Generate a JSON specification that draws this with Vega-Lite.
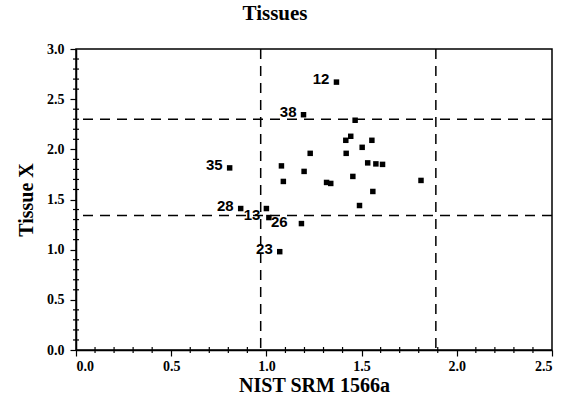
{
  "$schema": "https://vega.github.io/schema/vega-lite/v6.json",
  "autosize": "none",
  "width": 476,
  "height": 301,
  "padding": {"left": 76, "top": 49, "right": 10, "bottom": 45},
  "background": "white",
  "config": {
    "view": {"stroke": "black", "strokeWidth": 1.5},
    "axis": {"grid": false, "domainColor": "black", "tickColor": "black", "labelColor": "black", "titleColor": "black", "domainWidth": 1.5}
  },
  "title": {"text": "Tissues", "font": "Liberation Serif", "fontSize": 21, "fontWeight": "bold", "color": "black", "dx": -39, "offset": 18},
  "datasets": {
    "pts": [
      {"x": 1.368, "y": 2.67, "label": "12"},
      {"x": 1.195, "y": 2.345, "label": "38"},
      {"x": 1.466, "y": 2.29, "label": ""},
      {"x": 1.417, "y": 2.09, "label": ""},
      {"x": 1.443, "y": 2.13, "label": ""},
      {"x": 1.554, "y": 2.09, "label": ""},
      {"x": 1.503, "y": 2.02, "label": ""},
      {"x": 1.23, "y": 1.96, "label": ""},
      {"x": 1.419, "y": 1.96, "label": ""},
      {"x": 0.807, "y": 1.815, "label": "35"},
      {"x": 1.079, "y": 1.835, "label": ""},
      {"x": 1.198, "y": 1.78, "label": ""},
      {"x": 1.532, "y": 1.865, "label": ""},
      {"x": 1.575, "y": 1.855, "label": ""},
      {"x": 1.61, "y": 1.85, "label": ""},
      {"x": 1.089, "y": 1.68, "label": ""},
      {"x": 1.316, "y": 1.67, "label": ""},
      {"x": 1.338, "y": 1.66, "label": ""},
      {"x": 1.454, "y": 1.73, "label": ""},
      {"x": 1.812, "y": 1.69, "label": ""},
      {"x": 1.559, "y": 1.58, "label": ""},
      {"x": 1.489, "y": 1.44, "label": ""},
      {"x": 0.865, "y": 1.41, "label": "28"},
      {"x": 1.0, "y": 1.41, "label": "13"},
      {"x": 1.013, "y": 1.32, "label": "26"},
      {"x": 1.184, "y": 1.26, "label": ""},
      {"x": 1.07, "y": 0.98, "label": "23"}
    ],
    "hlines": [{"y": 2.3}, {"y": 1.34}],
    "vlines": [{"x": 0.97}, {"x": 1.89}],
    "yminor": [{"v": 0.1}, {"v": 0.2}, {"v": 0.3}, {"v": 0.4}, {"v": 0.6}, {"v": 0.7}, {"v": 0.8}, {"v": 0.9}, {"v": 1.1}, {"v": 1.2}, {"v": 1.3}, {"v": 1.4}, {"v": 1.6}, {"v": 1.7}, {"v": 1.8}, {"v": 1.9}, {"v": 2.1}, {"v": 2.2}, {"v": 2.3}, {"v": 2.4}, {"v": 2.6}, {"v": 2.7}, {"v": 2.8}, {"v": 2.9}],
    "xminor": [{"v": 0.1}, {"v": 0.2}, {"v": 0.3}, {"v": 0.4}, {"v": 0.6}, {"v": 0.7}, {"v": 0.8}, {"v": 0.9}, {"v": 1.1}, {"v": 1.2}, {"v": 1.3}, {"v": 1.4}, {"v": 1.6}, {"v": 1.7}, {"v": 1.8}, {"v": 1.9}, {"v": 2.1}, {"v": 2.2}, {"v": 2.3}, {"v": 2.4}]
  },
  "layer": [
    {
      "data": {"name": "pts"},
      "mark": {"type": "square", "size": 30, "color": "black", "opacity": 1, "filled": true},
      "encoding": {
        "x": {"field": "x", "type": "quantitative", "scale": {"domain": [0, 2.5], "nice": false},
          "axis": {"orient": "bottom", "values": [0, 0.5, 1.0, 1.5, 2.0, 2.5], "format": ".1f", "tickSize": 6, "tickWidth": 1.2, "labelFont": "Liberation Serif", "labelFontWeight": "bold", "labelFontSize": 14, "labelPadding": 3, "title": "NIST SRM 1566a", "titleFont": "Liberation Serif", "titleFontWeight": "bold", "titleFontSize": 20, "titlePadding": 2}},
        "y": {"field": "y", "type": "quantitative", "scale": {"domain": [0, 3], "nice": false},
          "axis": {"orient": "left", "values": [0, 0.5, 1.0, 1.5, 2.0, 2.5, 3.0], "format": ".1f", "tickSize": 6, "tickWidth": 1.2, "labelFont": "Liberation Serif", "labelFontWeight": "bold", "labelFontSize": 14, "labelPadding": 6, "title": "Tissue X", "titleFont": "Liberation Serif", "titleFontWeight": "bold", "titleFontSize": 20, "titlePadding": 10}}
      }
    },
    {
      "data": {"name": "yminor"},
      "mark": {"type": "tick", "orient": "horizontal", "size": 6, "thickness": 1.2, "color": "black", "opacity": 1},
      "encoding": {
        "y": {"field": "v", "type": "quantitative"},
        "x": {"datum": 0, "type": "quantitative"}
      }
    },
    {
      "data": {"name": "xminor"},
      "mark": {"type": "tick", "orient": "vertical", "size": 6, "thickness": 1.2, "color": "black", "opacity": 1},
      "encoding": {
        "x": {"field": "v", "type": "quantitative"},
        "y": {"datum": 0, "type": "quantitative"}
      }
    },
    {
      "data": {"name": "hlines"},
      "mark": {"type": "rule", "strokeDash": [10, 7], "strokeWidth": 1.5, "color": "black"},
      "encoding": {
        "y": {"field": "y", "type": "quantitative"}
      }
    },
    {
      "data": {"name": "vlines"},
      "mark": {"type": "rule", "strokeDash": [10, 7], "strokeWidth": 1.5, "color": "black"},
      "encoding": {
        "x": {"field": "x", "type": "quantitative"}
      }
    },
    {
      "data": {"name": "pts"},
      "transform": [{"filter": "datum.label != '' && datum.label != '13' && datum.label != '26'"}],
      "mark": {"type": "text", "align": "right", "baseline": "middle", "dx": -7, "dy": -3, "font": "Liberation Sans", "fontWeight": "bold", "fontSize": 15, "color": "black"},
      "encoding": {
        "x": {"field": "x", "type": "quantitative"},
        "y": {"field": "y", "type": "quantitative"},
        "text": {"field": "label"}
      }
    },
    {
      "data": {"name": "pts"},
      "transform": [{"filter": "datum.label == '13'"}],
      "mark": {"type": "text", "align": "right", "baseline": "middle", "dx": -6, "dy": 6, "font": "Liberation Sans", "fontWeight": "bold", "fontSize": 15, "color": "black"},
      "encoding": {
        "x": {"field": "x", "type": "quantitative"},
        "y": {"field": "y", "type": "quantitative"},
        "text": {"field": "label"}
      }
    },
    {
      "data": {"name": "pts"},
      "transform": [{"filter": "datum.label == '26'"}],
      "mark": {"type": "text", "align": "left", "baseline": "middle", "dx": 2, "dy": 4, "font": "Liberation Sans", "fontWeight": "bold", "fontSize": 15, "color": "black"},
      "encoding": {
        "x": {"field": "x", "type": "quantitative"},
        "y": {"field": "y", "type": "quantitative"},
        "text": {"field": "label"}
      }
    }
  ]
}
